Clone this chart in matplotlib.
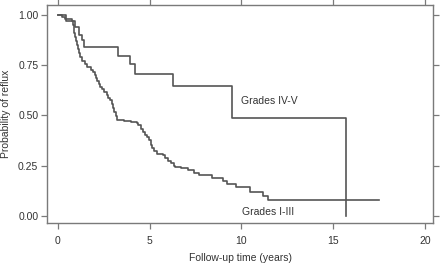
import matplotlib
matplotlib.use("Agg")
import matplotlib.pyplot as plt

plt.rcParams['font.family'] = ['Liberation Sans', 'DejaVu Sans']

# Kaplan-Meier step data
t_low = [0.00, 0.23, 0.38, 0.75, 0.80, 0.85, 0.90, 0.95, 1.00, 1.05, 1.10, 1.15, 1.22, 1.29,
         1.45, 1.60, 1.80, 1.92, 2.00, 2.08, 2.15, 2.22, 2.29, 2.40, 2.52, 2.65, 2.75, 2.83,
         2.92, 3.00, 3.08, 3.15, 3.23, 3.60, 4.00, 4.29, 4.38, 4.50, 4.62, 4.75, 4.83, 4.95,
         5.05, 5.15, 5.25, 5.38, 5.74, 5.85, 6.00, 6.15, 6.30, 6.38, 6.70, 7.10, 7.40, 7.70,
         8.37, 9.00, 9.19, 9.68, 10.46, 11.20, 11.43, 17.50]
s_low = [1.000, 0.990, 0.980, 0.970, 0.950, 0.930, 0.910, 0.890, 0.870, 0.850, 0.830, 0.810,
         0.790, 0.770, 0.755, 0.740, 0.725, 0.715, 0.700, 0.685, 0.670, 0.655, 0.643, 0.630,
         0.615, 0.600, 0.588, 0.576, 0.555, 0.535, 0.515, 0.495, 0.477, 0.470, 0.465, 0.460,
         0.450, 0.430, 0.415, 0.400, 0.394, 0.375, 0.355, 0.340, 0.325, 0.310, 0.303, 0.290,
         0.275, 0.262, 0.250, 0.245, 0.237, 0.229, 0.214, 0.202, 0.189, 0.172, 0.160, 0.144,
         0.119, 0.098, 0.077, 0.077]

t_high = [0.00, 0.45, 0.93, 1.16, 1.32, 1.43, 3.25, 3.92, 4.20, 6.25, 9.46, 15.69]
s_high = [1.000, 0.970, 0.940, 0.900, 0.875, 0.837, 0.796, 0.754, 0.705, 0.646, 0.488, 0.000]

x_ticks = [0, 5, 10, 15, 20]
y_ticks = [0.00, 0.25, 0.50, 0.75, 1.00]
y_tick_labels = ["0.00", "0.25", "0.50", "0.75", "1.00"]

line_col = "#555555"
spine_col = "#7a7a7a"

fig = plt.figure(figsize=(4.40, 2.63), dpi=100)
ax = fig.add_axes([0.1075, 0.152, 0.8765, 0.829])

ax.plot(t_low, s_low, drawstyle='steps-post', color=line_col, lw=1.2)
ax.plot(t_high, s_high, drawstyle='steps-post', color=line_col, lw=1.2)

ax.text(10.0, 0.573, "Grades IV-V", fontsize=7.5, color="#333333", va='center', ha='left')
ax.text(10.05, 0.021, "Grades I-III", fontsize=7.5, color="#333333", va='center', ha='left')

ax.set_xlim(-0.58, 20.44)
ax.set_ylim(-0.035, 1.048)
ax.set_xticks(x_ticks)
ax.set_yticks(y_ticks)
ax.set_yticklabels(y_tick_labels)

for s in ax.spines.values():
    s.set_color(spine_col)
    s.set_linewidth(1.0)

ax.tick_params(axis='both', which='both', direction='out', length=4.5, width=0.9,
               color=spine_col, labelsize=7.5, labelcolor="#333333",
               top=True, right=True, labeltop=False, labelright=False)
ax.tick_params(axis='x', pad=5)
ax.tick_params(axis='y', pad=2)

ax.set_xlabel("Follow-up time (years)", fontsize=7.5, color="#333333", labelpad=5)
ax.set_ylabel("Probability of reflux", fontsize=7.5, color="#333333", labelpad=5)

fig.savefig("out.png", dpi=100)
